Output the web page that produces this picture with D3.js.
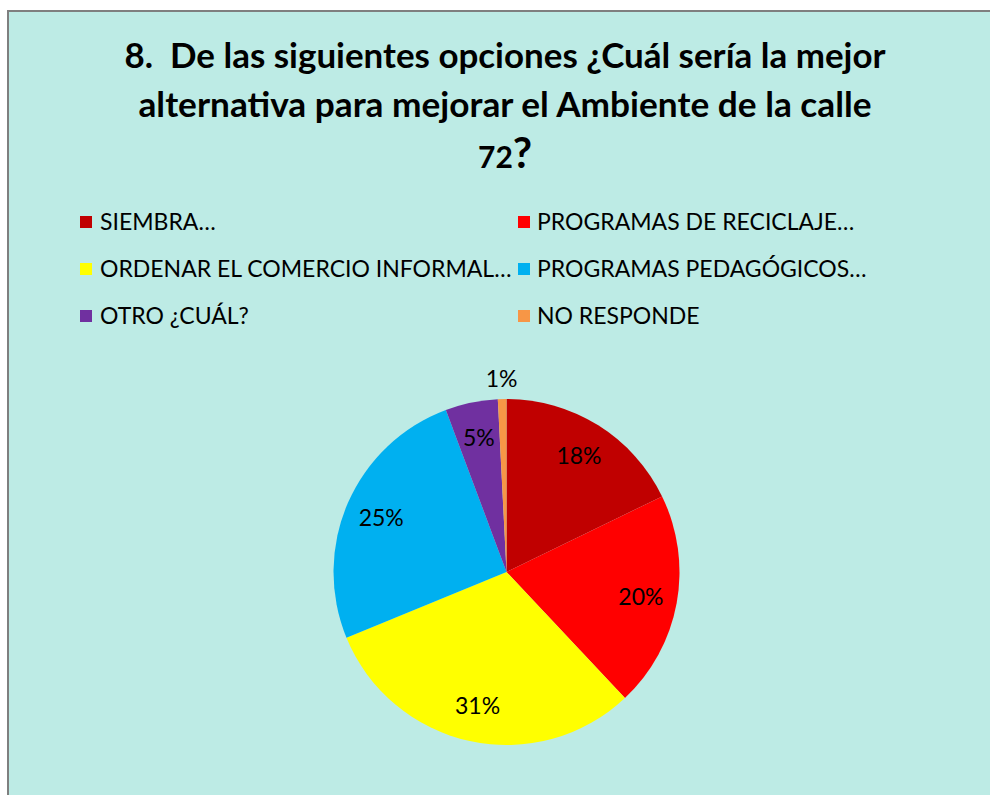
<!DOCTYPE html>
<html>
<head>
<meta charset="utf-8">
<script src="https://cdn.jsdelivr.net/npm/d3@7"></script>
<style>
  html, body { margin: 0; padding: 0; background: #fff; }
  svg { display: block; }
  text { white-space: pre; }
</style>
</head>
<body>
<div id="chart"></div>
<script>
const titleLines = [
  '8.  De las siguientes opciones ¿Cuál sería la mejor',
  'alternativa para mejorar el Ambiente de la calle'
];
const titleLast = '72';
const categories = ['SIEMBRA…', 'PROGRAMAS DE RECICLAJE…', 'ORDENAR EL COMERCIO INFORMAL…', 'PROGRAMAS PEDAGÓGICOS…', 'OTRO ¿CUÁL?', 'NO RESPONDE'];
const values = [17.8, 20.2, 30.8, 25.5, 4.9, 0.8];
const labels = ['18%', '20%', '31%', '25%', '5%', '1%'];
const colors = ['#c00000', '#ff0000', '#ffff00', '#00b0f0', '#7030a0', '#f79646'];

const width = 990, height = 795;
const svg = d3.select('#chart').append('svg').attr('width', width).attr('height', height);

// chart area with grey frame on top/left
svg.append('rect').attr('x', 8).attr('y', 11).attr('width', width).attr('height', height)
  .attr('fill', '#bdebe5').attr('stroke', '#7f7f7f').attr('stroke-width', 2);

const font = 'Lato, Calibri, "Open Sans", sans-serif';

// title
const titleY = [68, 117];
const titleLen = [761, 733];
titleLines.forEach((t, i) => {
  svg.append('text').attr('x', 505).attr('y', titleY[i]).attr('text-anchor', 'middle')
    .attr('font-family', font).attr('font-weight', 700).attr('font-size', 34)
    .attr('textLength', titleLen[i]).attr('lengthAdjust', 'spacingAndGlyphs')
    .text(t);
});
const last = svg.append('text').attr('x', 478).attr('y', 168)
  .attr('font-family', font).attr('font-weight', 700);
last.append('tspan').attr('font-size', 30).text(titleLast);
last.append('tspan').attr('font-size', 42).text('?');

// legend
const swX = [80, 518], txX = [100, 537];
const rowY = [228, 275, 322];
const legend = svg.append('g');
categories.forEach((c, i) => {
  const col = i % 2, y = rowY[Math.floor(i / 2)];
  legend.append('rect').attr('x', swX[col]).attr('y', y - 12).attr('width', 12).attr('height', 12).attr('fill', colors[i]);
  legend.append('text').attr('x', txX[col]).attr('y', y + 2)
    .attr('font-family', font).attr('font-size', 23).attr('fill', '#000').text(c);
});

// pie
const cx = 506.5, cy = 572, r = 173;
const pie = d3.pie().sort(null).value(d => d);
const arcs = pie(values);
const arc = d3.arc().innerRadius(0).outerRadius(r);
const g = svg.append('g').attr('transform', `translate(${cx},${cy})`);
g.selectAll('path').data(arcs).join('path')
  .attr('d', arc).attr('fill', (d, i) => colors[i]);

const labelArc = d3.arc().innerRadius(r * 0.79).outerRadius(r * 0.79);
const outArc = d3.arc().innerRadius(r + 20).outerRadius(r + 20);
g.selectAll('text').data(arcs).join('text')
  .attr('transform', (d, i) => `translate(${(values[i] < 2 ? outArc : labelArc).centroid(d)})`)
  .attr('text-anchor', 'middle').attr('dy', '0.36em')
  .attr('font-family', font).attr('font-size', 23).attr('fill', '#000')
  .text((d, i) => labels[i]);
</script>
</body>
</html>
